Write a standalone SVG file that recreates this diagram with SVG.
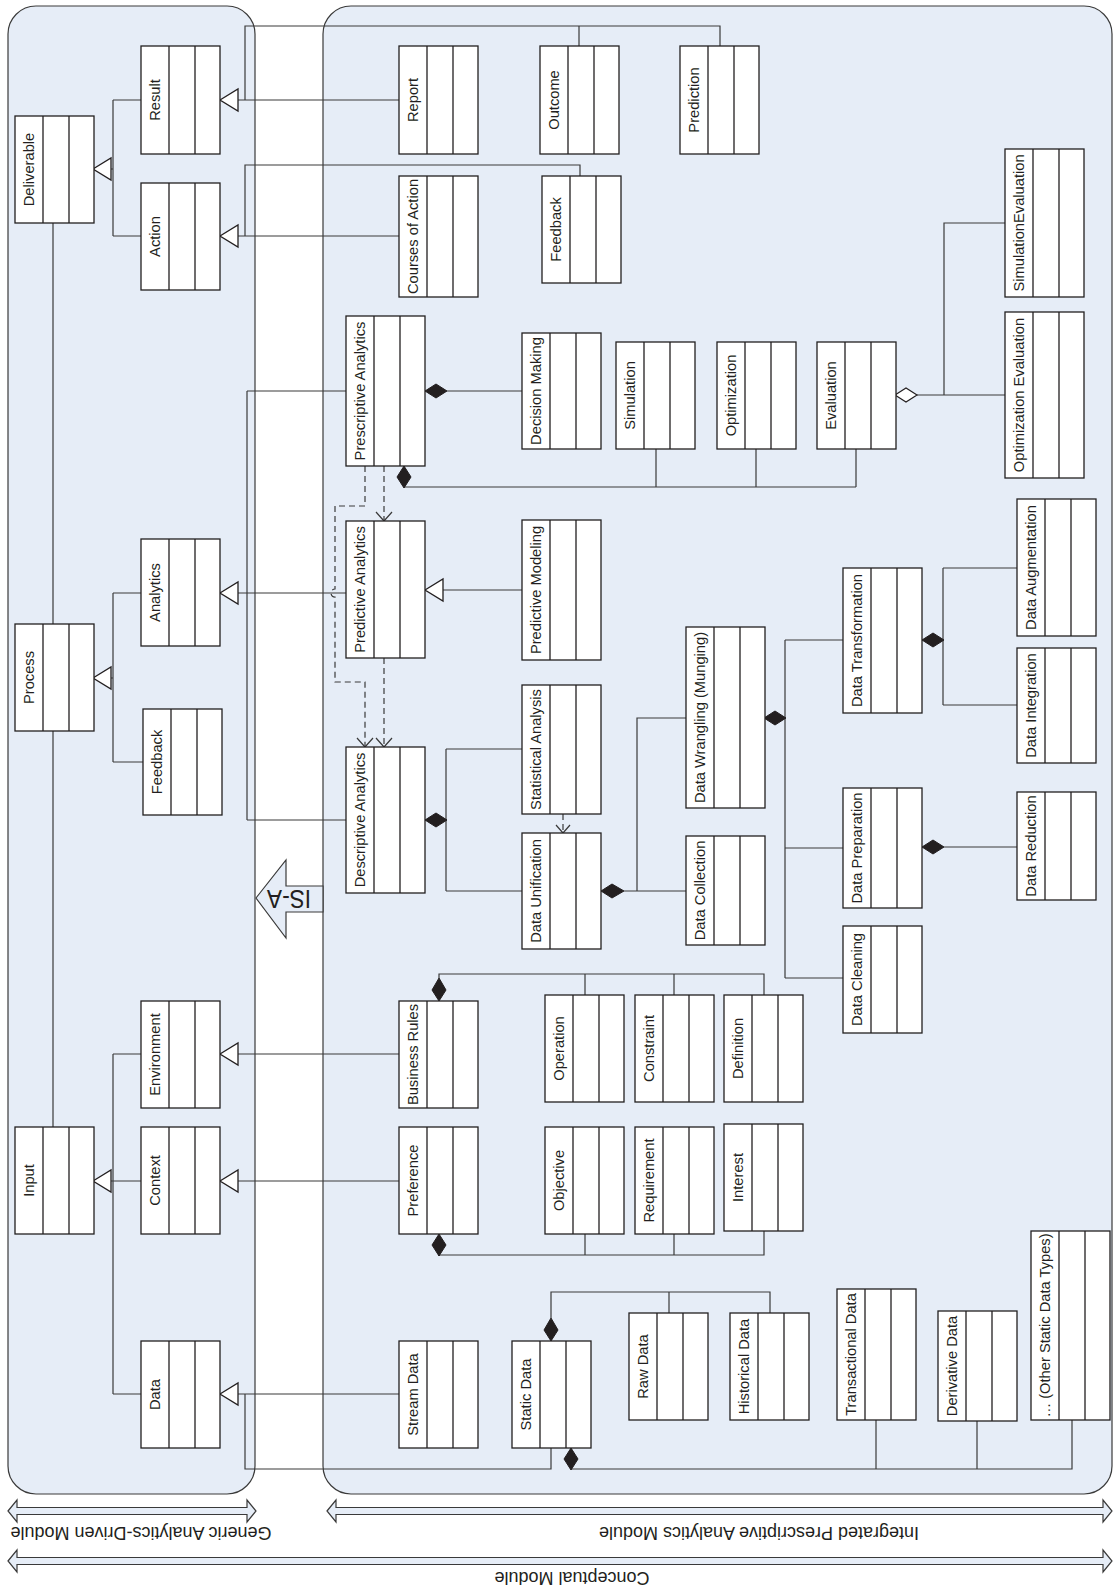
<svg xmlns="http://www.w3.org/2000/svg" width="1113" height="1591" viewBox="0 0 1113 1591">
<style>
.panel{fill:#e6edf7;stroke:#3a3a3a;stroke-width:1.2}
.node rect{fill:#fff;stroke:#231f20;stroke-width:1.3}
.node path{fill:none;stroke:#231f20;stroke-width:1.3}
.node text{font-family:"Liberation Sans",Arial,sans-serif;font-size:14.7px;fill:#231f20;text-anchor:middle}
.c{fill:none;stroke:#3a3a3a;stroke-width:1.2}
.d{stroke-dasharray:6 4}
.gen{fill:#fff;stroke:#231f20;stroke-width:1.3}
.agg{fill:#fff;stroke:#231f20;stroke-width:1.2}
.comp{fill:#231f20;stroke:#231f20;stroke-width:1}
.big{fill:#e6edf7;stroke:#3a3a3a;stroke-width:1.2}
.lab{font-family:"Liberation Sans",Arial,sans-serif;font-size:18px;fill:#231f20;text-anchor:middle}
</style>
<rect width="1113" height="1591" fill="#fff"/>
<g id="panels">
<rect class="panel" x="8" y="6" width="247" height="1488" rx="28"/>
<rect class="panel" x="323" y="6" width="789" height="1488" rx="28"/>
</g>
<g id="connectors">
<path class="c" d="M111,169H113M113,100V236M113,100H141M113,236H141"/>
<path class="c" d="M238,100H399M245,100V26H720V46M579,26V46"/>
<path class="c" d="M238,236H399M245,236V165H580V176"/>
<path class="c" d="M53,223V624M53,731V1127"/>
<path class="c" d="M111,678H113M113,593V762M113,593H141M113,762H143"/>
<path class="c" d="M238,593H346M247,391V820M247,391H346M247,820H346"/>
<path class="c" d="M111,1181H113M113,1054V1394M113,1054H141M113,1181H141M113,1394H141"/>
<path class="c" d="M238,1054H399M238,1181H399M238,1394H399M245,1394V1469H551V1448"/>
<path class="c" d="M447,391H522"/>
<path class="c" d="M404,487H856M656,449V487M756,449V487M856,449V487"/>
<path class="c" d="M917,395H1005M944,395V223H1005"/>
<path class="c" d="M443,590H522"/>
<path class="c d" d="M365,466V506H335V589A4,4 0 0 0 335,597V682H365V747"/>
<path class="c d" d="M384,466V521M384,658V747M563,814V833"/>
<path class="c" d="M357,738L365,747L373,738M376,512L384,521L392,512M376,738L384,747L392,738M556,825L563,833L570,825"/>
<path class="c" d="M446,749V891M446,749H522M446,891H522"/>
<path class="c" d="M624,891H686M637,891V718H686"/>
<path class="c" d="M785,640V978M785,640H843M785,848H843M785,978H843"/>
<path class="c" d="M943,568V705M943,568H1017M943,705H1017"/>
<path class="c" d="M944,847H1017"/>
<path class="c" d="M439,978V974H764V995M585,974V995M674,974V995"/>
<path class="c" d="M439,1256V1255H764V1231M585,1234V1255M674,1234V1255"/>
<path class="c" d="M551,1318V1292H770V1313M669,1292V1313"/>
<path class="c" d="M571,1469H1072V1420M876,1420V1469M977,1421V1469"/>
<polygon class="gen" points="93,169 111,158 111,180"/>
<polygon class="gen" points="220,100 238,89 238,111"/>
<polygon class="gen" points="220,236 238,225 238,247"/>
<polygon class="gen" points="93,678 111,667 111,689"/>
<polygon class="gen" points="220,593 238,582 238,604"/>
<polygon class="gen" points="93,1181 111,1170 111,1192"/>
<polygon class="gen" points="220,1054 238,1043 238,1065"/>
<polygon class="gen" points="220,1181 238,1170 238,1192"/>
<polygon class="gen" points="220,1394 238,1383 238,1405"/>
<polygon class="gen" points="425,590 443,579 443,601"/>
<polygon class="comp" points="425,391 436,384 447,391 436,398"/>
<polygon class="comp" points="404,466 411,477 404,488 397,477"/>
<polygon class="agg" points="895,395 906,388 917,395 906,402"/>
<polygon class="comp" points="425,820 436,813 447,820 436,827"/>
<polygon class="comp" points="601,891 612,884 624,891 612,898"/>
<polygon class="comp" points="764,718 775,711 786,718 775,725"/>
<polygon class="comp" points="922,640 933,633 944,640 933,647"/>
<polygon class="comp" points="922,847 933,840 944,847 933,854"/>
<polygon class="comp" points="439,1001 446,990 439,978 432,990"/>
<polygon class="comp" points="439,1234 446,1245 439,1256 432,1245"/>
<polygon class="comp" points="551,1341 558,1330 551,1318 544,1330"/>
<polygon class="comp" points="571,1448 578,1459 571,1470 564,1459"/>
</g>
<g id="isa">
<polygon class="big" points="256,898 286,860 286,886 323,886 323,912 286,912 286,938"/>
<text transform="translate(289,899) rotate(180)" dy="9" style="font-family:'Liberation Sans',Arial,sans-serif;font-size:26px;fill:#231f20;text-anchor:middle" textLength="44" lengthAdjust="spacingAndGlyphs">IS-A</text>
</g>
<g id="deliverable" class="node"><rect x="15" y="116" width="79" height="107"/><path d="M43,116v107M69,116v107"/><text transform="translate(34,169.5) rotate(-90)">Deliverable</text></g>
<g id="result" class="node"><rect x="141" y="46" width="79" height="108"/><path d="M169,46v108M195,46v108"/><text transform="translate(160,100) rotate(-90)">Result</text></g>
<g id="action" class="node"><rect x="141" y="183" width="79" height="107"/><path d="M169,183v107M195,183v107"/><text transform="translate(160,236.5) rotate(-90)">Action</text></g>
<g id="analytics" class="node"><rect x="141" y="539" width="79" height="107"/><path d="M169,539v107M195,539v107"/><text transform="translate(160,592.5) rotate(-90)">Analytics</text></g>
<g id="process" class="node"><rect x="15" y="624" width="79" height="107"/><path d="M43,624v107M69,624v107"/><text transform="translate(34,677.5) rotate(-90)">Process</text></g>
<g id="feedback-generic" class="node"><rect x="143" y="709" width="79" height="106"/><path d="M171,709v106M197,709v106"/><text transform="translate(162,762) rotate(-90)">Feedback</text></g>
<g id="environment" class="node"><rect x="141" y="1001" width="79" height="107"/><path d="M169,1001v107M195,1001v107"/><text transform="translate(160,1054.5) rotate(-90)">Environment</text></g>
<g id="context" class="node"><rect x="141" y="1127" width="79" height="107"/><path d="M169,1127v107M195,1127v107"/><text transform="translate(160,1180.5) rotate(-90)">Context</text></g>
<g id="input" class="node"><rect x="15" y="1127" width="79" height="107"/><path d="M43,1127v107M69,1127v107"/><text transform="translate(34,1180.5) rotate(-90)">Input</text></g>
<g id="data" class="node"><rect x="141" y="1341" width="79" height="107"/><path d="M169,1341v107M195,1341v107"/><text transform="translate(160,1394.5) rotate(-90)">Data</text></g>
<g id="report" class="node"><rect x="399" y="46" width="79" height="108"/><path d="M427,46v108M453,46v108"/><text transform="translate(418,100) rotate(-90)">Report</text></g>
<g id="outcome" class="node"><rect x="540" y="46" width="79" height="108"/><path d="M568,46v108M594,46v108"/><text transform="translate(559,100) rotate(-90)">Outcome</text></g>
<g id="prediction" class="node"><rect x="680" y="46" width="79" height="108"/><path d="M708,46v108M734,46v108"/><text transform="translate(699,100) rotate(-90)">Prediction</text></g>
<g id="courses-of-action" class="node"><rect x="399" y="176" width="79" height="121"/><path d="M427,176v121M453,176v121"/><text transform="translate(418,236.5) rotate(-90)">Courses of Action</text></g>
<g id="feedback" class="node"><rect x="542" y="176" width="79" height="107"/><path d="M570,176v107M596,176v107"/><text transform="translate(561,229.5) rotate(-90)">Feedback</text></g>
<g id="simulation-evaluation" class="node"><rect x="1005" y="149" width="79" height="148"/><path d="M1033,149v148M1059,149v148"/><text transform="translate(1024,223) rotate(-90)">SimulationEvaluation</text></g>
<g id="optimization-evaluation" class="node"><rect x="1005" y="312" width="79" height="166"/><path d="M1033,312v166M1059,312v166"/><text transform="translate(1024,395) rotate(-90)">Optimization Evaluation</text></g>
<g id="prescriptive-analytics" class="node"><rect x="346" y="316" width="79" height="150"/><path d="M374,316v150M400,316v150"/><text transform="translate(365,391) rotate(-90)">Prescriptive Analytics</text></g>
<g id="decision-making" class="node"><rect x="522" y="333" width="79" height="116"/><path d="M550,333v116M576,333v116"/><text transform="translate(541,391) rotate(-90)">Decision Making</text></g>
<g id="simulation" class="node"><rect x="616" y="342" width="79" height="107"/><path d="M644,342v107M670,342v107"/><text transform="translate(635,395.5) rotate(-90)">Simulation</text></g>
<g id="optimization" class="node"><rect x="717" y="342" width="79" height="107"/><path d="M745,342v107M771,342v107"/><text transform="translate(736,395.5) rotate(-90)">Optimization</text></g>
<g id="evaluation" class="node"><rect x="817" y="342" width="79" height="107"/><path d="M845,342v107M871,342v107"/><text transform="translate(836,395.5) rotate(-90)">Evaluation</text></g>
<g id="predictive-analytics" class="node"><rect x="346" y="521" width="79" height="137"/><path d="M374,521v137M400,521v137"/><text transform="translate(365,589.5) rotate(-90)">Predictive Analytics</text></g>
<g id="predictive-modeling" class="node"><rect x="522" y="520" width="79" height="140"/><path d="M550,520v140M576,520v140"/><text transform="translate(541,590) rotate(-90)">Predictive Modeling</text></g>
<g id="data-augmentation" class="node"><rect x="1017" y="499" width="79" height="137"/><path d="M1045,499v137M1071,499v137"/><text transform="translate(1036,567.5) rotate(-90)">Data Augmentation</text></g>
<g id="data-transformation" class="node"><rect x="843" y="568" width="79" height="145"/><path d="M871,568v145M897,568v145"/><text transform="translate(862,640.5) rotate(-90)">Data Transformation</text></g>
<g id="data-wrangling" class="node"><rect x="686" y="627" width="79" height="181"/><path d="M714,627v181M740,627v181"/><text transform="translate(705,717.5) rotate(-90)">Data Wrangling (Munging)</text></g>
<g id="data-integration" class="node"><rect x="1017" y="648" width="79" height="115"/><path d="M1045,648v115M1071,648v115"/><text transform="translate(1036,705.5) rotate(-90)">Data Integration</text></g>
<g id="statistical-analysis" class="node"><rect x="522" y="685" width="79" height="129"/><path d="M550,685v129M576,685v129"/><text transform="translate(541,749.5) rotate(-90)">Statistical Analysis</text></g>
<g id="descriptive-analytics" class="node"><rect x="346" y="747" width="79" height="146"/><path d="M374,747v146M400,747v146"/><text transform="translate(365,820) rotate(-90)">Descriptive Analytics</text></g>
<g id="data-preparation" class="node"><rect x="843" y="788" width="79" height="120"/><path d="M871,788v120M897,788v120"/><text transform="translate(862,848) rotate(-90)">Data Preparation</text></g>
<g id="data-reduction" class="node"><rect x="1017" y="792" width="79" height="108"/><path d="M1045,792v108M1071,792v108"/><text transform="translate(1036,846) rotate(-90)">Data Reduction</text></g>
<g id="data-unification" class="node"><rect x="522" y="833" width="79" height="116"/><path d="M550,833v116M576,833v116"/><text transform="translate(541,891) rotate(-90)">Data Unification</text></g>
<g id="data-collection" class="node"><rect x="686" y="836" width="79" height="109"/><path d="M714,836v109M740,836v109"/><text transform="translate(705,890.5) rotate(-90)">Data Collection</text></g>
<g id="data-cleaning" class="node"><rect x="843" y="926" width="79" height="107"/><path d="M871,926v107M897,926v107"/><text transform="translate(862,979.5) rotate(-90)">Data Cleaning</text></g>
<g id="business-rules" class="node"><rect x="399" y="1001" width="79" height="107"/><path d="M427,1001v107M453,1001v107"/><text transform="translate(418,1054.5) rotate(-90)">Business Rules</text></g>
<g id="operation" class="node"><rect x="545" y="995" width="79" height="107"/><path d="M573,995v107M599,995v107"/><text transform="translate(564,1048.5) rotate(-90)">Operation</text></g>
<g id="constraint" class="node"><rect x="635" y="995" width="79" height="107"/><path d="M663,995v107M689,995v107"/><text transform="translate(654,1048.5) rotate(-90)">Constraint</text></g>
<g id="definition" class="node"><rect x="724" y="995" width="79" height="107"/><path d="M752,995v107M778,995v107"/><text transform="translate(743,1048.5) rotate(-90)">Definition</text></g>
<g id="preference" class="node"><rect x="399" y="1127" width="79" height="107"/><path d="M427,1127v107M453,1127v107"/><text transform="translate(418,1180.5) rotate(-90)">Preference</text></g>
<g id="objective" class="node"><rect x="545" y="1127" width="79" height="107"/><path d="M573,1127v107M599,1127v107"/><text transform="translate(564,1180.5) rotate(-90)">Objective</text></g>
<g id="requirement" class="node"><rect x="635" y="1127" width="79" height="107"/><path d="M663,1127v107M689,1127v107"/><text transform="translate(654,1180.5) rotate(-90)">Requirement</text></g>
<g id="interest" class="node"><rect x="724" y="1124" width="79" height="107"/><path d="M752,1124v107M778,1124v107"/><text transform="translate(743,1177.5) rotate(-90)">Interest</text></g>
<g id="stream-data" class="node"><rect x="399" y="1341" width="79" height="107"/><path d="M427,1341v107M453,1341v107"/><text transform="translate(418,1394.5) rotate(-90)">Stream Data</text></g>
<g id="static-data" class="node"><rect x="512" y="1341" width="79" height="107"/><path d="M540,1341v107M566,1341v107"/><text transform="translate(531,1394.5) rotate(-90)">Static Data</text></g>
<g id="raw-data" class="node"><rect x="629" y="1313" width="79" height="107"/><path d="M657,1313v107M683,1313v107"/><text transform="translate(648,1366.5) rotate(-90)">Raw Data</text></g>
<g id="historical-data" class="node"><rect x="730" y="1313" width="79" height="107"/><path d="M758,1313v107M784,1313v107"/><text transform="translate(749,1366.5) rotate(-90)">Historical Data</text></g>
<g id="transactional-data" class="node"><rect x="837" y="1289" width="79" height="131"/><path d="M865,1289v131M891,1289v131"/><text transform="translate(856,1354.5) rotate(-90)">Transactional Data</text></g>
<g id="derivative-data" class="node"><rect x="938" y="1311" width="79" height="110"/><path d="M966,1311v110M992,1311v110"/><text transform="translate(957,1366) rotate(-90)">Derivative Data</text></g>
<g id="other-static-data" class="node"><rect x="1031" y="1231" width="79" height="189"/><path d="M1059,1231v189M1085,1231v189"/><text transform="translate(1050,1325.5) rotate(-90)">… (Other Static Data Types)</text></g>
<g id="module-labels">
<polygon class="big" points="8,1511 17,1500 17,1507.5 247,1507.5 247,1500 256,1511 247,1522 247,1514.5 17,1514.5 17,1522"/>
<polygon class="big" points="327,1511 336,1500 336,1507.5 1103,1507.5 1103,1500 1112,1511 1103,1522 1103,1514.5 336,1514.5 336,1522"/>
<polygon class="big" points="8,1561 17,1550 17,1557.5 1103,1557.5 1103,1550 1112,1561 1103,1572 1103,1564.5 17,1564.5 17,1572"/>
<text class="lab" transform="translate(141,1533) rotate(180)" dy="6.5">Generic Analytics-Driven Module</text>
<text class="lab" transform="translate(759,1533) rotate(180)" dy="6.5">Integrated Prescriptive Analytics Module</text>
<text class="lab" transform="translate(572,1578) rotate(180)" dy="6.5">Conceptual Module</text>
</g>
</svg>
